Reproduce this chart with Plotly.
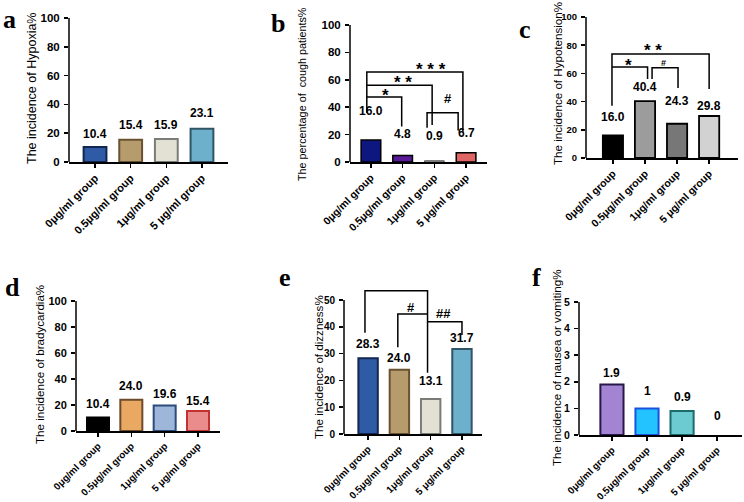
import plotly.graph_objects as go

W, H = 744, 502

# ---------------- data ----------------
groups = ["0μg/ml group", "0.5μg/ml group", "1μg/ml group", "5 μg/ml group"]
hypoxia = [10.4, 15.4, 15.9, 23.1]
cough = [16.0, 4.8, 0.9, 6.7]
hypotension = [16.0, 40.4, 24.3, 29.8]
bradycardia = [10.4, 24.0, 19.6, 15.4]
dizziness = [28.3, 24.0, 13.1, 31.7]
nausea = [1.9, 1, 0.9, 0]

labels_a = ["10.4", "15.4", "15.9", "23.1"]
labels_b = ["16.0", "4.8", "0.9", "6.7"]
labels_c = ["16.0", "40.4", "24.3", "29.8"]
labels_d = ["10.4", "24.0", "19.6", "15.4"]
labels_e = ["28.3", "24.0", "13.1", "31.7"]
labels_f = ["1.9", "1", "0.9", "0"]

# significance brackets (text and polyline points in data units)
sig_b = [("* * *", [(-0.13, 36), (-0.13, 65.7), (2.9, 65.7), (2.9, 22)], (1.9, 69.5), 17),
         ("* *", [(-0.13, 56), (1.93, 56), (1.93, 27)], (1.02, 60), 17),
         ("*", [(-0.13, 47.5), (0.97, 47.5), (0.97, 26)], (0.45, 51), 17),
         ("#", [(1.77, 25), (1.77, 36), (2.75, 36), (2.75, 23)], (2.43, 46), 13)]
sig_c = [("* *", [(-0.03, 37), (-0.03, 73.8), (3.0, 73.8), (3.0, 49)], (1.25, 78.5), 17),
         ("*", [(-0.03, 64.5), (1.08, 64.5), (1.08, 56)], (0.47, 67.5), 17),
         ("#", [(1.22, 56), (1.22, 64), (2.03, 64), (2.03, 49.6)], (1.58, 67.5), 9)]
sig_e = [("*", [(-0.1, 37.8), (-0.1, 53.5), (1.9, 53.5), (1.9, 22.9)], (0.75, 56.3), 17),
         ("#", [(0.95, 32.4), (0.95, 44.8), (1.9, 44.8)], (1.37, 47.2), 13),
         ("##", [(1.9, 41.9), (3.0, 41.9), (3.0, 37)], (2.4, 45), 13)]

SANS = "Liberation Sans, Arial, sans-serif"
SERIF = "Liberation Serif, Times New Roman, serif"

panels = [
    dict(letter="a", vals=hypoxia, labels=labels_a, box=(69, 18, 228, 162), xr=(-0.73, 3.73), yr=(0, 100),
         ytop=100, dtick=20, fill=["#2f5ba6", "#b69c6c", "#e3e0d4", "#6cb0cb"],
         edge=["#14254f", "#6a5230", "#7b7b78", "#2f5566"], lw=[2, 2, 2, 2], bw=0.64,
         title="The incidence of Hypoxia%", tpos=(32, 89), tsize=12.5, lpos=(9, 20),
         gaps=[7, 9, 8, 10], sig=[], yfs=11.5, xfs=11),
    dict(letter="b", vals=cough, labels=labels_b, box=(350, 25, 487, 162), xr=(-0.66, 3.66), yr=(0, 100),
         ytop=100, dtick=20, fill=["#0e1680", "#5a1a98", "#bdbdbd", "#e06565"],
         edge=["#000000", "#000000", "#555555", "#000000"], lw=[1.5, 1.5, 1, 1.5], bw=0.62,
         title="The percentage of  cough patients%", tpos=(302, 94), tsize=10.8, lpos=(278, 24),
         gaps=[23, 15, 19, 14], sig=sig_b, yfs=11.5, xfs=10.5),
    dict(letter="c", vals=hypotension, labels=labels_c, box=(586, 17, 738, 158), xr=(-0.84, 3.9), yr=(0, 100),
         ytop=100, dtick=20, fill=["#000000", "#9c9c9c", "#777777", "#d2d2d2"],
         edge=["#000000", "#000000", "#000000", "#000000"], lw=[1.8, 1.8, 1.8, 1.8], bw=0.63,
         title="The incidence of Hypotension%", tpos=(558, 84), tsize=11.6, lpos=(525, 30),
         gaps=[12, 8, 17, 4], sig=sig_c, yfs=9.5, xfs=10.5),
    dict(letter="d", vals=bradycardia, labels=labels_d, box=(76, 301, 220, 431), xr=(-0.66, 3.66), yr=(0, 100),
         ytop=100, dtick=20, fill=["#000000", "#e9a963", "#9db6d9", "#ea8c8c"],
         edge=["#000000", "#6d4a2b", "#2b4b7a", "#c23232"], lw=[2, 2, 2, 2], bw=0.66,
         title="The incidence of bradycardia%", tpos=(39, 365), tsize=11.6, lpos=(12, 287),
         gaps=[7, 8, 6, 4], sig=[], yfs=11, xfs=9.8),
    dict(letter="e", vals=dizziness, labels=labels_e, box=(344, 284, 482, 434), xr=(-0.77, 3.64), yr=(0, 56),
         ytop=50, dtick=10, fill=["#2f5ba6", "#b69c6c", "#e3e0d4", "#6cb0cb"],
         edge=["#14254f", "#6a5230", "#7b7b78", "#2f5566"], lw=[2, 2, 2, 2], bw=0.62,
         title="The incidence of dizzness%", tpos=(318, 367), tsize=11.6, lpos=(285, 277),
         gaps=[8, 6, 12, 5], sig=sig_e, yfs=10, xfs=9.8),
    dict(letter="f", vals=nausea, labels=labels_f, box=(579, 302, 742, 435), xr=(-0.94, 3.71), yr=(0, 5),
         ytop=5, dtick=1, fill=["#a284d2", "#22c3ff", "#6ccbd1", "rgba(0,0,0,0)"],
         edge=["#28184a", "#1a52e0", "#1b6a6c", "rgba(0,0,0,0)"], lw=[2, 2, 2, 0], bw=0.66,
         title="The incidence of nausea or vomiting%", tpos=(556, 368), tsize=11.6, lpos=(536, 277),
         gaps=[5, 11, 8, 13], sig=[], yfs=10.5, xfs=9.8),
]


def fx(p):
    return p / W


def fy(p):
    return 1 - p / H


fig = go.Figure()
annotations = []
shapes = []
layout_axes = {}

for i, p in enumerate(panels):
    n = i + 1
    sfx = "" if n == 1 else str(n)
    xa, ya = "x" + sfx, "y" + sfx
    x0, y0, x1, y1 = p["box"]
    cats = list(range(len(groups)))

    fig.add_trace(go.Bar(
        x=cats, y=p["vals"], width=p["bw"],
        marker=dict(color=p["fill"], line=dict(color=p["edge"], width=p["lw"])),
        xaxis=xa, yaxis=ya, hoverinfo="skip", showlegend=False))

    # brackets
    for txt, pts, lab, fsz in p["sig"]:
        fig.add_trace(go.Scatter(
            x=[q[0] for q in pts], y=[q[1] for q in pts], mode="lines",
            line=dict(color="black", width=1.5), xaxis=xa, yaxis=ya,
            hoverinfo="skip", showlegend=False))
        annotations.append(dict(
            x=lab[0], y=lab[1], xref=xa, yref=ya, text=txt, showarrow=False,
            xanchor="center", yanchor="middle", yshift=-3 if "*" in txt else 0,
            font=dict(family=SANS, size=fsz, color="black", weight="bold")))

    layout_axes["xaxis" + sfx] = dict(
        domain=[fx(x0), fx(x1)], anchor=ya, range=list(p["xr"]), automargin=False,
        tickmode="array", tickvals=cats, ticktext=groups, tickangle=-45,
        showline=True, linecolor="black", linewidth=1.5,
        ticks="outside", ticklen=4, tickwidth=1.5, tickcolor="black",
        tickfont=dict(family=SANS, size=p["xfs"], color="black", weight="bold"),
        showgrid=False, zeroline=False, fixedrange=True)
    layout_axes["yaxis" + sfx] = dict(
        domain=[fy(y1), fy(y0)], anchor=xa, range=list(p["yr"]), automargin=False,
        tickmode="linear", tick0=0, dtick=p["dtick"],
        showline=False, ticks="outside", ticklen=4, tickwidth=1.5, tickcolor="black",
        tickfont=dict(family=SANS, size=p["yfs"], color="black", weight="bold"),
        showgrid=False, zeroline=False, fixedrange=True, ticklabelstandoff=2)

    # visible y-axis line (0 .. top tick)
    shapes.append(dict(type="line", xref=xa + " domain", yref=ya, x0=0, x1=0,
                       y0=0, y1=p["ytop"], line=dict(color="black", width=1.5)))

    # value labels
    for c, v, t, g in zip(cats, p["vals"], p["labels"], p["gaps"]):
        annotations.append(dict(
            x=c, y=v, xref=xa, yref=ya, text=t, showarrow=False,
            xanchor="center", yanchor="bottom", yshift=g - 3,
            font=dict(family=SANS, size=12, color="black", weight="bold")))

    # y-axis title
    annotations.append(dict(
        x=fx(p["tpos"][0]), y=fy(p["tpos"][1]), xref="paper", yref="paper",
        text=p["title"], textangle=-90, showarrow=False,
        xanchor="center", yanchor="middle",
        font=dict(family=SANS, size=p["tsize"], color="black")))

    # panel letter
    annotations.append(dict(
        x=fx(p["lpos"][0]), y=fy(p["lpos"][1]), xref="paper", yref="paper",
        text=p["letter"], showarrow=False, xanchor="center", yanchor="middle",
        font=dict(family=SERIF, size=26, color="black", weight="bold")))

fig.update_layout(
    template="none",
    width=W, height=H, margin=dict(l=0, r=0, t=0, b=0, autoexpand=False),
    paper_bgcolor="white", plot_bgcolor="white",
    showlegend=False, bargap=0.3,
    annotations=annotations, shapes=shapes, **layout_axes)

fig.write_html("out.html", include_plotlyjs=True, full_html=True,
               config=dict(displayModeBar=False, staticPlot=True))
